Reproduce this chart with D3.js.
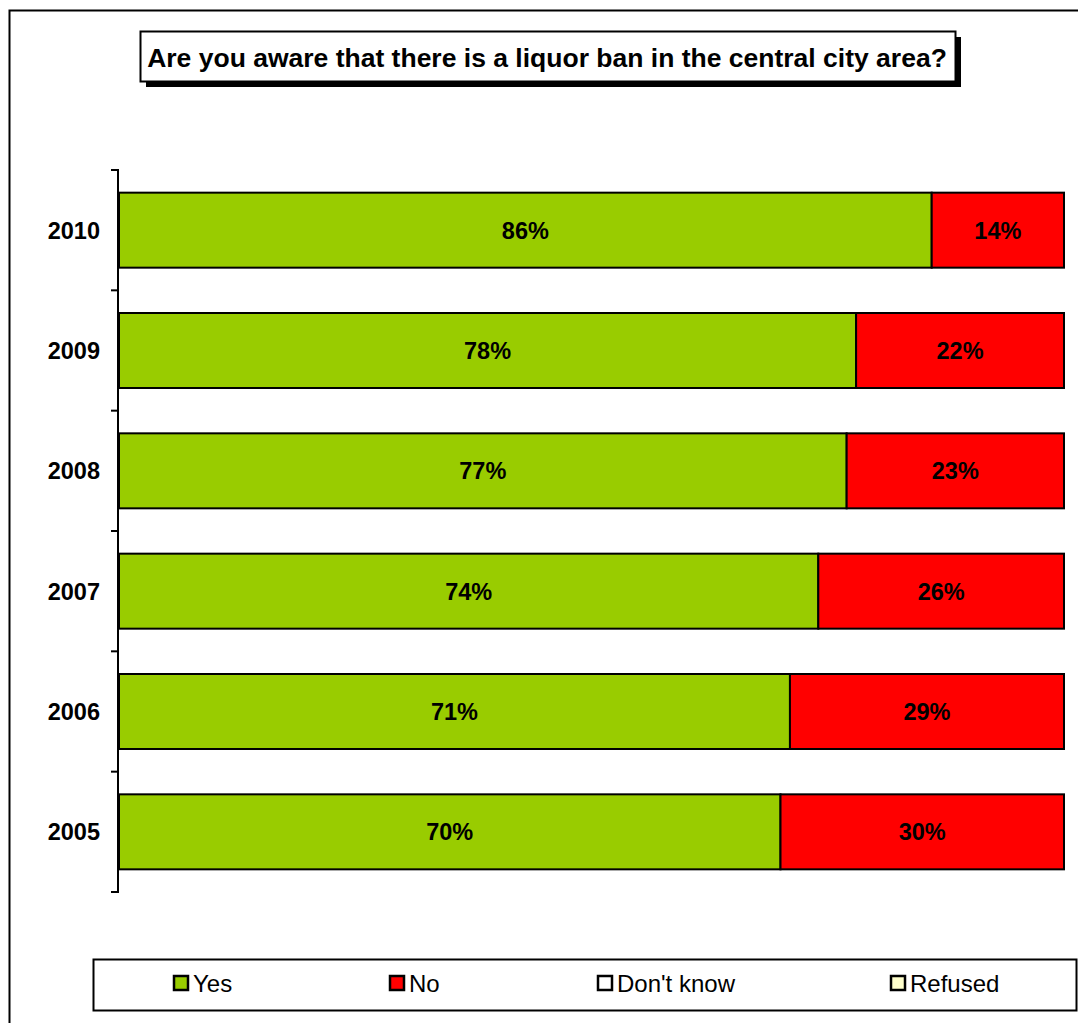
<!DOCTYPE html>
<html>
<head>
<meta charset="utf-8">
<script src="https://cdn.jsdelivr.net/npm/d3@7"></script>
<style>
  html, body { margin: 0; padding: 0; background: #fff; }
  svg { display: block; }
  text { font-family: Arial, "Liberation Sans", sans-serif; }
</style>
</head>
<body>
<svg id="chart" width="1078" height="1023"></svg>
<script>
// ---- data ----
const years = ["2010", "2009", "2008", "2007", "2006", "2005"];
const yesValues = [86, 78, 77, 74, 71, 70];
const noValues = [14, 22, 23, 26, 29, 30];
const dontKnowValues = [0, 0, 0, 0, 0, 0];
const refusedValues = [0, 0, 0, 0, 0, 0];
const seriesNames = ["Yes", "No", "Don't know", "Refused"];
const seriesColors = ["#99CC00", "#FF0000", "#FFFFFF", "#FFFFCC"];
const titleText = "Are you aware that there is a liquor ban in the central city area?";

// ---- layout ----
const svg = d3.select("#chart");

// outer frame
svg.append("rect").attr("x", 9.5).attr("y", 10.5).attr("width", 1100).attr("height", 1100)
  .attr("fill", "#fff").attr("stroke", "#000").attr("stroke-width", 2);

const rows = years.map((y, i) => ({
  year: y,
  values: [yesValues[i], noValues[i], dontKnowValues[i], refusedValues[i]]
}));

const stack = d3.stack().keys([0, 1, 2, 3]).value((d, k) => d.values[k]);
const stacked = stack(rows);

const x = d3.scaleLinear().domain([0, 100]).range([119, 1064]);
const pad = 1 - 75 / (722 / 6);
const y = d3.scaleBand().domain(years).range([170, 892]).paddingInner(pad).paddingOuter(pad / 2);

// bars
stacked.forEach((layer, k) => {
  const g = svg.append("g");
  g.selectAll("rect").data(layer.filter(d => d[1] - d[0] > 0)).enter().append("rect")
    .attr("x", d => x(d[0]))
    .attr("y", d => y(d.data.year))
    .attr("width", d => x(d[1]) - x(d[0]))
    .attr("height", y.bandwidth())
    .attr("fill", seriesColors[k])
    .attr("stroke", "#000").attr("stroke-width", 2);
  g.selectAll("text").data(layer.filter(d => d[1] - d[0] > 0)).enter().append("text")
    .attr("x", d => (x(d[0]) + x(d[1])) / 2)
    .attr("y", d => y(d.data.year) + y.bandwidth() / 2)
    .attr("dy", "0.36em")
    .attr("text-anchor", "middle")
    .attr("font-weight", "bold").attr("font-size", 23.5)
    .text(d => (d[1] - d[0]) + "%");
});

// axis
const axisX = 118;
const step = y.step();
const boundaries = d3.range(years.length + 1).map(i => 170 + i * step);
svg.append("line").attr("x1", axisX).attr("x2", axisX)
  .attr("y1", boundaries[0]).attr("y2", boundaries[boundaries.length - 1])
  .attr("stroke", "#000").attr("stroke-width", 2);
svg.selectAll(".tick").data(boundaries).enter().append("line")
  .attr("x1", axisX - 7).attr("x2", axisX + 1)
  .attr("y1", d => d).attr("y2", d => d)
  .attr("stroke", "#000").attr("stroke-width", 2);
svg.selectAll(".ylab").data(years).enter().append("text")
  .attr("x", 100).attr("y", d => y(d) + y.bandwidth() / 2).attr("dy", "0.36em")
  .attr("text-anchor", "end").attr("font-weight", "bold").attr("font-size", 23.5)
  .text(d => d);

// title
svg.append("rect").attr("x", 146).attr("y", 37).attr("width", 815).attr("height", 50).attr("fill", "#000");
svg.append("rect").attr("x", 140.5).attr("y", 31.5).attr("width", 815).attr("height", 50)
  .attr("fill", "#fff").attr("stroke", "#000").attr("stroke-width", 2);
svg.append("text").attr("x", 547).attr("y", 57).attr("dy", "0.36em").attr("text-anchor", "middle")
  .attr("font-weight", "bold").attr("font-size", 26.5).text(titleText);

// legend
svg.append("rect").attr("x", 93.5).attr("y", 959.5).attr("width", 983).attr("height", 51)
  .attr("fill", "#fff").attr("stroke", "#000").attr("stroke-width", 2);
const legendX = [174, 390, 598, 891];
const lg = svg.selectAll(".leg").data(seriesNames).enter().append("g")
  .attr("transform", (d, i) => `translate(${legendX[i]},976)`);
lg.append("rect").attr("width", 14).attr("height", 14)
  .attr("fill", (d, i) => seriesColors[i]).attr("stroke", "#000").attr("stroke-width", 2.5);
lg.append("text").attr("x", 19).attr("y", 7).attr("dy", "0.36em")
  .attr("font-size", 24).text(d => d);
</script>
</body>
</html>
